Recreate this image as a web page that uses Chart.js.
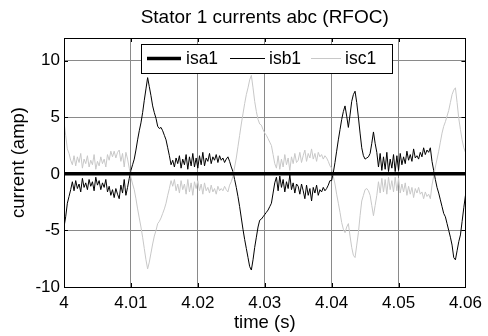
<!DOCTYPE html>
<html><head><meta charset="utf-8">
<script src="https://cdn.jsdelivr.net/npm/chart.js@4.4.1/dist/chart.umd.min.js"></script>
<style>html,body{margin:0;padding:0;background:#fff;}#wrap{width:488px;height:336px;}</style>
</head><body><div id="wrap"><canvas id="c" width="488" height="336"></canvas></div>
<script>
const chartTitle = 'Stator 1 currents abc (RFOC)';
const xTitle = 'time (s)';
const yTitle = 'current (amp)';
const seriesNames = ['isa1', 'isb1', 'isc1'];
const xTicks = [4, 4.01, 4.02, 4.03, 4.04, 4.05, 4.06];
const xTickLabels = ['4', '4.01', '4.02', '4.03', '4.04', '4.05', '4.06'];
const yTicks = [-10, -5, 0, 5, 10];
const yTickLabels = ['-10', '-5', '0', '5', '10'];
const tStart = 4.0, tStep = 0.00025;   // sampling grid of isb1 / isc1
const isa1Times = [4.0, 4.06];
const isa1 = [0, 0];
const isb1 = [
-4.7,-3.8,-2.6,-2.0,-1.4,-0.7,-1.5,-0.6,-1.3,-0.9,-1.6,-0.4,-1.2,-0.8,-1.4,-0.5,-1.1,-0.7,-1.5,-0.3,
-1.0,-0.6,-1.4,-0.8,-1.2,-0.5,-1.6,-1.1,-1.9,-1.4,-2.1,-1.3,-1.8,-2.2,-1.0,-1.7,-0.5,-1.9,-1.2,-0.4,
0.3,0.8,1.3,2.1,3.0,3.8,4.5,5.4,6.5,7.5,8.5,7.7,6.9,6.0,5.4,4.9,4.2,4.0,4.1,3.8,
3.4,3.0,2.3,1.6,0.8,1.2,0.6,1.4,0.9,1.6,0.5,1.3,0.8,1.7,0.4,1.5,0.7,1.8,0.6,1.4,
0.5,1.6,0.8,1.9,0.7,1.4,1.1,1.8,0.9,1.5,1.2,1.7,1.0,1.6,1.2,1.4,1.0,1.3,1.5,1.1,
0.6,0.2,-0.5,-1.2,-2.0,-2.9,-3.9,-4.9,-5.8,-6.6,-7.4,-8.2,-8.5,-7.6,-6.5,-5.6,-4.7,-4.1,-4.0,-3.8,
-3.6,-3.4,-3.2,-2.9,-2.6,-1.7,-0.8,-0.3,-1.5,-0.2,-1.2,-0.5,-1.6,-0.7,-1.3,-0.1,-1.4,-0.8,-1.7,-0.9,
-1.1,-1.8,-0.9,-1.5,-2.2,-1.0,-1.9,-1.3,-2.4,-1.2,-1.7,-1.0,-1.9,-1.4,-1.6,-1.2,-1.5,-1.3,-1.0,-0.6,
-0.6,0.1,1.0,2.0,3.0,3.9,4.8,5.5,6.0,5.1,4.1,5.2,6.4,7.0,7.3,6.3,5.0,3.6,2.3,1.6,
1.3,1.4,1.5,1.8,2.7,3.7,2.7,1.9,0.6,1.8,0.3,1.5,0.4,1.9,0.2,1.3,0.5,1.7,0.2,1.6,
0.3,1.8,0.8,1.5,0.9,2.0,1.2,1.7,1.1,2.2,1.4,1.6,1.3,1.9,1.5,2.3,1.7,2.1,1.9,2.3,
1.1,0.3,-0.5,-1.2,-1.7,-2.3,-2.9,-3.5,-3.8,-4.4,-5.0,-5.6,-6.3,-7.4,-7.6,-6.8,-6.0,-5.4,-4.2,-3.0,
-1.9];
const isc1 = [
4.6,3.4,2.2,1.8,1.2,0.8,1.6,0.7,1.5,1.0,1.8,0.5,1.3,0.9,1.6,0.6,1.2,0.8,1.7,0.4,
1.1,0.7,1.5,0.9,1.3,0.6,1.7,1.2,2.0,1.5,2.0,1.4,1.9,2.1,1.1,1.8,0.6,1.9,1.3,0.5,
-0.3,-0.9,-1.4,-2.2,-3.1,-3.9,-4.7,-5.6,-6.6,-7.6,-8.4,-7.8,-7.0,-6.2,-5.5,-5.0,-4.4,-4.2,-3.9,-3.5,
-3.1,-2.6,-1.9,-1.3,-0.6,-1.1,-0.5,-1.5,-0.9,-1.7,-0.6,-1.4,-0.9,-1.8,-0.5,-1.6,-0.8,-1.9,-0.7,-1.3,
-0.6,-1.5,-0.9,-1.8,-0.8,-1.5,-1.2,-1.7,-1.0,-1.6,-1.3,-1.8,-1.1,-1.5,-1.3,-1.5,-1.1,-1.4,-1.6,-1.0,
-0.7,-0.2,0.6,1.4,2.4,3.4,4.4,5.3,6.2,7.0,7.6,8.3,8.7,7.6,6.4,5.5,4.8,4.4,4.3,3.9,
3.6,3.4,3.1,2.8,2.5,1.7,0.9,0.5,1.6,0.4,1.3,0.6,1.7,0.8,1.4,0.3,1.5,0.9,1.8,1.0,
1.2,1.9,1.0,1.6,2.1,1.1,1.8,1.4,2.2,1.3,1.8,1.1,1.9,1.5,1.7,1.3,1.6,1.4,1.1,0.7,
0.5,-0.2,-0.9,-1.8,-2.6,-3.4,-4.3,-4.9,-5.2,-4.7,-4.4,-5.5,-6.5,-7.2,-7.4,-6.3,-5.2,-3.7,-2.4,-1.9,
-1.4,-1.3,-1.5,-1.9,-2.8,-3.7,-2.8,-1.9,-0.7,-1.7,-0.4,-1.6,-0.5,-1.8,-0.3,-1.4,-0.6,-1.6,-0.3,-1.5,
-0.4,-1.7,-0.9,-1.6,-0.8,-1.9,-1.1,-1.8,-1.2,-2.1,-1.3,-1.7,-1.2,-1.8,-1.6,-2.2,-1.6,-2.0,-1.8,-2.2,
-1.0,-0.2,0.6,1.3,2.0,2.8,3.6,4.2,4.6,5.1,5.6,6.3,7.0,7.4,7.6,6.3,4.9,3.9,3.0,2.3,
1.9];

const FONT = '"Liberation Sans", Arial, Helvetica, sans-serif';
const toPts = (vals) => vals.map((v, i) => ({x: tStart + i * tStep, y: v}));

const decor = {
  id: 'decor',
  afterDraw(chart) {
    const ctx = chart.ctx, a = chart.chartArea;
    const xs = chart.scales.x, ys = chart.scales.y;
    ctx.save();
    ctx.strokeStyle = '#000'; ctx.lineWidth = 1;
    ctx.strokeRect(Math.round(a.left) + 0.5, Math.round(a.top) + 0.5, Math.round(a.right - a.left), Math.round(a.bottom - a.top));
    ctx.beginPath();
    xTicks.forEach(v => {
      const px = Math.round(xs.getPixelForValue(v)) + 0.5;
      ctx.moveTo(px, a.bottom); ctx.lineTo(px, a.bottom - 4);
      ctx.moveTo(px, a.top); ctx.lineTo(px, a.top + 4);
    });
    yTicks.forEach(v => {
      const py = Math.round(ys.getPixelForValue(v)) + 0.5;
      ctx.moveTo(a.left, py); ctx.lineTo(a.left + 4, py);
      ctx.moveTo(a.right, py); ctx.lineTo(a.right - 4, py);
    });
    ctx.stroke();
    // titles
    ctx.fillStyle = '#000';
    ctx.textAlign = 'center'; ctx.textBaseline = 'middle';
    ctx.font = '19px ' + FONT;
    ctx.fillText(chartTitle, (a.left + a.right) / 2, 18);
    ctx.font = '18.5px ' + FONT;
    ctx.fillText(xTitle, (a.left + a.right) / 2, 323);
    ctx.save();
    ctx.translate(18.5, (a.top + a.bottom) / 2);
    ctx.rotate(-Math.PI / 2);
    ctx.fillText(yTitle, 0, 0);
    ctx.restore();
    // legend
    const lx = 141, ly = 44, lw = 251, lh = 29;
    ctx.fillStyle = '#fff';
    ctx.fillRect(lx, ly, lw, lh);
    ctx.strokeStyle = '#000'; ctx.lineWidth = 1;
    ctx.strokeRect(lx + 0.5, ly + 0.5, lw, lh);
    const entries = [[147, 181, 186], [230, 265, 269], [311, 341, 345]];
    chart.data.datasets.forEach((ds, i) => {
      const [x0, x1, tx] = entries[i];
      ctx.beginPath();
      ctx.strokeStyle = ds.borderColor; ctx.lineWidth = ds.borderWidth;
      ctx.moveTo(x0, 58.5); ctx.lineTo(x1, 58.5); ctx.stroke();
      ctx.fillStyle = '#000'; ctx.textAlign = 'left'; ctx.textBaseline = 'middle';
      ctx.font = '17.5px ' + FONT;
      ctx.fillText(ds.label, tx, 59.5);
    });
    ctx.restore();
  }
};

new Chart(document.getElementById('c'), {
  type: 'line',
  data: {
    datasets: [
      {label: seriesNames[0], data: isa1.map((v, i) => ({x: isa1Times[i], y: v})), borderColor: '#000', borderWidth: 3.5, pointRadius: 0, order: 0},
      {label: seriesNames[1], data: toPts(isb1), borderColor: '#000', borderWidth: 1, pointRadius: 0, order: 2},
      {label: seriesNames[2], data: toPts(isc1), borderColor: 'rgb(200,200,200)', borderWidth: 1, pointRadius: 0, order: 1}
    ]
  },
  options: {
    responsive: false, animation: false, devicePixelRatio: 1,
    layout: {padding: {top: 38, right: 20, left: 0, bottom: 0}},
    plugins: {legend: {display: false}, title: {display: false}, tooltip: {enabled: false}},
    scales: {
      x: {
        type: 'linear', min: 4, max: 4.06,
        afterBuildTicks: s => { s.ticks = xTicks.map(v => ({value: v})); },
        afterFit: s => { s.height = 49; },
        ticks: {callback: (v, i) => xTickLabels[i], color: '#000', font: {size: 17, family: FONT}, padding: 6, maxRotation: 0, autoSkip: false},
        grid: {color: '#8a8a8a', lineWidth: 1, drawTicks: false},
        border: {display: true, color: '#000', width: 1}
      },
      y: {
        type: 'linear', min: -10, max: 12,
        afterBuildTicks: s => { s.ticks = yTicks.map(v => ({value: v})); },
        afterFit: s => { s.width = 64; },
        ticks: {callback: (v, i) => yTickLabels[i], color: '#000', font: {size: 17, family: FONT}, padding: 4},
        grid: {color: '#8a8a8a', lineWidth: 1, drawTicks: false},
        border: {display: true, color: '#000', width: 1}
      }
    }
  },
  plugins: [decor]
});
</script>
</body></html>
